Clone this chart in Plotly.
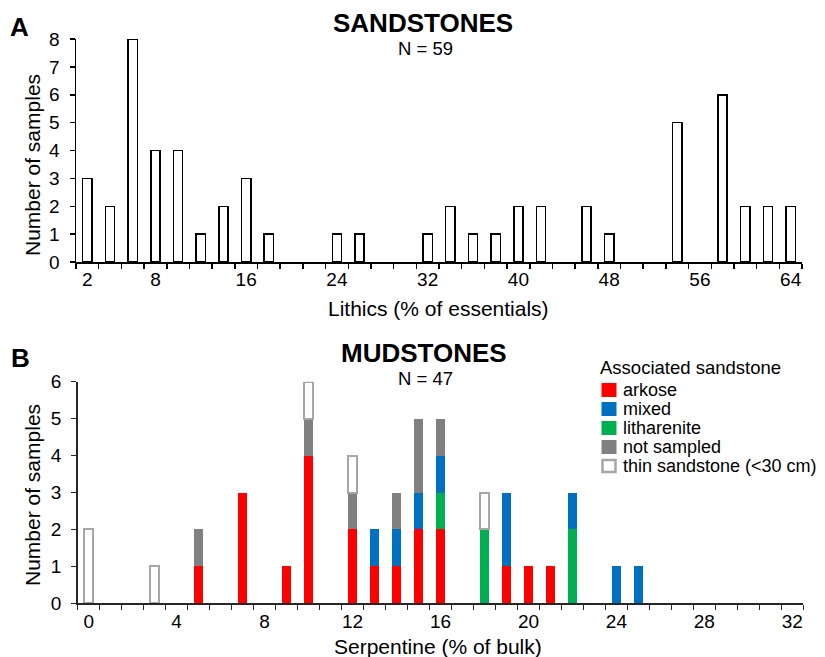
import plotly.graph_objects as go

W, H = 825, 657
FONT = "Liberation Sans, Arial, sans-serif"

# ---------------- Data: panel A (sandstones) ----------------
lithics_bins = [2, 4, 6, 8, 10, 12, 14, 16, 18, 20, 22, 24, 26, 28, 30, 32,
                34, 36, 38, 40, 42, 44, 46, 48, 50, 52, 54, 56, 58, 60, 62, 64]
lithics_counts = [3, 2, 8, 4, 4, 1, 2, 3, 1, 0, 0, 1, 1, 0, 0, 1,
                  2, 1, 1, 2, 2, 0, 2, 1, 0, 0, 5, 0, 6, 2, 2, 2]
lithics_ticks = [2, 8, 16, 24, 32, 40, 48, 56, 64]

# ---------------- Data: panel B (mudstones) ----------------
serp_bins = [0, 3, 5, 7, 9, 10, 12, 13, 14, 15, 16, 18, 19, 20, 21, 22, 24, 25]
arkose =      [0, 0, 1, 3, 1, 4, 2, 1, 1, 2, 2, 0, 1, 1, 1, 0, 0, 0]
litharenite = [0, 0, 0, 0, 0, 0, 0, 0, 0, 0, 1, 2, 0, 0, 0, 2, 0, 0]
mixed =       [0, 0, 0, 0, 0, 0, 0, 1, 1, 1, 1, 0, 2, 0, 0, 1, 1, 1]
not_sampled = [0, 0, 1, 0, 0, 1, 1, 0, 1, 2, 1, 0, 0, 0, 0, 0, 0, 0]
thin =        [2, 1, 0, 0, 0, 1, 1, 0, 0, 0, 0, 1, 0, 0, 0, 0, 0, 0]
serp_ticks = [0, 4, 8, 12, 16, 20, 24, 28, 32]

categories = ["arkose", "mixed", "litharenite", "not sampled", "thin sandstone (<30 cm)"]
colors = {"arkose": "#FF0000", "mixed": "#0070C0", "litharenite": "#00B050",
          "not sampled": "#808080", "thin sandstone (<30 cm)": "#FFFFFF"}
THIN_LINE = "#A6A6A6"


def px(x):
    return x / W


def py(y):
    return 1 - y / H


def nonzero(xs, ys):
    pairs = [(a, b) for a, b in zip(xs, ys) if b]
    return [p[0] for p in pairs], [p[1] for p in pairs]


fig = go.Figure()

# Panel A bars
xa, ya = nonzero(lithics_bins, lithics_counts)
fig.add_trace(go.Bar(x=xa, y=ya, width=0.82, xaxis="x", yaxis="y",
                     marker=dict(color="white", line=dict(color="black", width=1.5)),
                     showlegend=False, hoverinfo="x+y"))

# Panel B stacked bars (stack order bottom->top)
stack = [("arkose", arkose), ("litharenite", litharenite), ("mixed", mixed),
         ("not sampled", not_sampled), ("thin sandstone (<30 cm)", thin)]
for name, vals in stack:
    xb, yb = nonzero(serp_bins, vals)
    if name.startswith("thin"):
        line = dict(color=THIN_LINE, width=2)
    else:
        line = dict(width=0)
    fig.add_trace(go.Bar(x=xb, y=yb, width=0.39, name=name, xaxis="x2", yaxis="y2",
                         marker=dict(color=colors[name], line=line), showlegend=False))

axis_common = dict(showgrid=False, zeroline=False, showline=True, automargin=False,
                   tickfont=dict(family=FONT, size=19, color="black"))

fig.update_layout(
    width=W, height=H,
    margin=dict(l=0, r=0, t=0, b=0, pad=0, autoexpand=False),
    paper_bgcolor="white", plot_bgcolor="white",
    barmode="stack",
    font=dict(family=FONT, color="black"),
    xaxis=dict(domain=[px(76), px(802)], range=[1, 65], anchor="y",
               tickmode="array", tickvals=lithics_ticks, ticks="",
               linecolor="black", linewidth=1.5,
               minor=dict(ticks="outside", tickmode="linear", tick0=1, dtick=2,
                          ticklen=5, tickwidth=1.5, tickcolor="black"),
               **axis_common),
    yaxis=dict(domain=[py(262), py(39)], range=[0, 8], anchor="x",
               tickmode="linear", tick0=0, dtick=1, ticks="outside", ticklen=5,
               tickwidth=1.5, tickcolor="black", linecolor="black", linewidth=1.5,
               ticklabelstandoff=6,
               **axis_common),
    xaxis2=dict(domain=[px(77.7), px(803.3)], range=[-0.5, 32.5], anchor="y2",
                tickmode="array", tickvals=serp_ticks, ticks="",
                linecolor="#262626", linewidth=1.5,
                minor=dict(ticks="outside", tickmode="linear", tick0=-0.5, dtick=1,
                           ticklen=5, tickwidth=1.5, tickcolor="#262626"),
                **axis_common),
    yaxis2=dict(domain=[py(603.3), py(381.7)], range=[0, 6], anchor="x2",
                tickmode="linear", tick0=0, dtick=1, ticks="outside", ticklen=5,
                tickwidth=1.5, tickcolor="#262626", linecolor="#262626", linewidth=1.5,
                ticklabelstandoff=6,
                **axis_common),
)


def note(text, x, y, size, bold=False, angle=0, xanchor="center"):
    fig.add_annotation(text=("<b>%s</b>" % text) if bold else text,
                       x=px(x), y=py(y), xref="paper", yref="paper",
                       xanchor=xanchor, yanchor="middle", showarrow=False,
                       textangle=angle, borderpad=0, borderwidth=0,
                       font=dict(family=FONT, size=size, color="black"))


# Panel labels and titles
note("A", 19.5, 27.5, 26, bold=True)
note("SANDSTONES", 423, 23.5, 26, bold=True)
note("N = 59", 425, 48, 18.5)
note("Lithics (% of essentials)", 438.5, 308, 21)
note("Number of samples", 32, 165, 21, angle=-90)

note("B", 20, 357.5, 26, bold=True)
note("MUDSTONES", 424, 353, 26, bold=True)
note("N = 47", 425, 378.5, 18.5)
note("Serpentine (% of bulk)", 438, 646, 21)
note("Number of samples", 32, 495, 21, angle=-90)

# Custom legend (swatches + labels)
note("Associated sandstone", 600, 367, 18.5, xanchor="left")
leg_y = [390, 409, 428, 447, 466]
for name, yc in zip(categories, leg_y):
    if name.startswith("thin"):
        fig.add_shape(type="rect", xref="paper", yref="paper",
                      x0=px(602.5), x1=px(615.5), y0=py(yc + 6), y1=py(yc - 6),
                      fillcolor="white", line=dict(color=THIN_LINE, width=2.5))
    else:
        fig.add_shape(type="rect", xref="paper", yref="paper",
                      x0=px(601.5), x1=px(616.5), y0=py(yc + 7), y1=py(yc - 7),
                      fillcolor=colors[name], line=dict(width=0))
    note(name, 623, yc, 18, xanchor="left")

page_fix = (
    "var gd=document.getElementById('{plot_id}');"
    "gd.style.position='fixed';gd.style.top='0px';gd.style.left='0px';"
    "var de=document.documentElement, bd=document.body;"
    "de.style.margin='0';de.style.padding='0';de.style.overflow='hidden';"
    "de.style.height='657px';de.style.width='825px';"
    "bd.style.margin='0';bd.style.padding='0';bd.style.overflow='hidden';"
    "bd.style.height='657px';bd.style.width='825px';"
)

fig.write_html("out.html", post_script=page_fix,
               config={"displayModeBar": False, "staticPlot": True})
